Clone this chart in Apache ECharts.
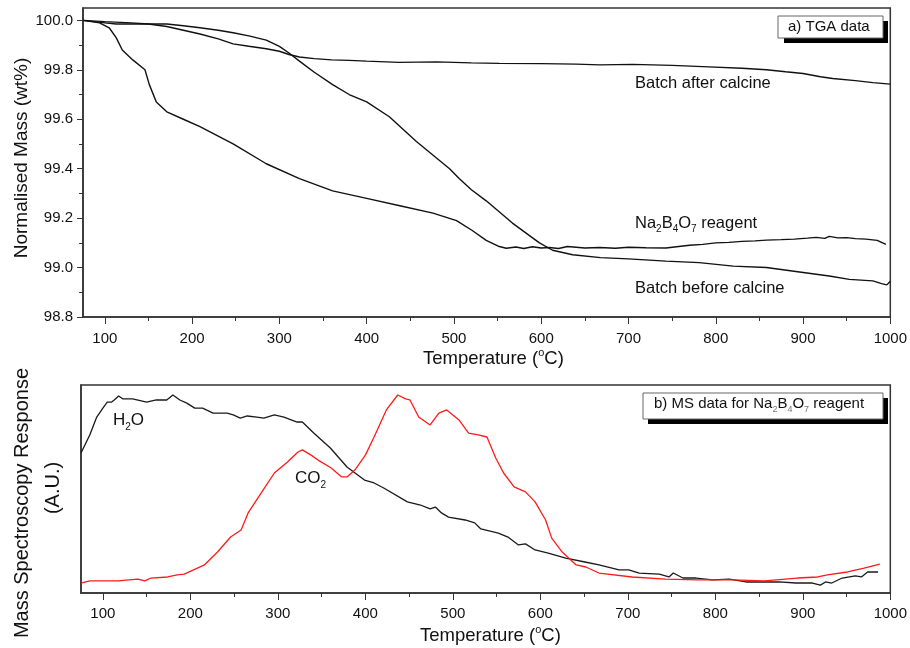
<!DOCTYPE html>
<html>
<head>
<meta charset="utf-8">
<script src="https://cdn.jsdelivr.net/npm/echarts@6/dist/echarts.min.js"></script>
<style>
  html, body { margin: 0; padding: 0; background: #ffffff; }
  #chart { width: 910px; height: 648px; }
</style>
</head>
<body>
<div id="chart"></div>
<script>
// ---------- a) TGA data: temperature (°C) and normalised mass (wt%) ----------
const afterTemp = [75, 100, 130, 150, 171, 190, 209, 230, 247, 265, 285, 300, 311, 323, 340, 360, 380, 400, 437, 480, 520, 552, 600, 640, 667, 705, 750, 792, 830, 858, 880, 900, 920, 934, 960, 980, 1000];
const afterMass = [100.0, 99.995, 99.99, 99.985, 99.975, 99.96, 99.945, 99.925, 99.905, 99.895, 99.885, 99.875, 99.862, 99.852, 99.845, 99.84, 99.838, 99.835, 99.83, 99.832, 99.828, 99.826, 99.825, 99.823, 99.82, 99.822, 99.818, 99.812, 99.806, 99.8, 99.792, 99.785, 99.772, 99.765, 99.756, 99.748, 99.742];

const beforeTemp = [75, 100, 113, 140, 171, 190, 209, 230, 247, 265, 285, 300, 311, 323, 340, 361, 380, 400, 426, 457, 495, 506, 520, 537, 567, 598, 613, 636, 668, 700, 743, 781, 820, 858, 896, 930, 953, 980, 990, 996, 1000];
const beforeMass = [100.0, 99.99, 99.985, 99.985, 99.985, 99.978, 99.97, 99.96, 99.95, 99.937, 99.92, 99.895, 99.868, 99.835, 99.79, 99.74, 99.70, 99.67, 99.61, 99.51, 99.40, 99.36, 99.315, 99.27, 99.18, 99.10, 99.07, 99.052, 99.04, 99.035, 99.026, 99.02, 99.006, 99.0, 98.982, 98.966, 98.952, 98.946, 98.935, 98.93, 98.945];

const boraxTemp = [75, 94, 105, 113, 120, 132, 146, 151, 159, 171, 190, 209, 247, 285, 323, 361, 400, 438, 476, 503, 521, 537, 552, 560, 571, 580, 590, 600, 609, 620, 630, 650, 667, 685, 700, 720, 743, 760, 770, 785, 800, 815, 830, 845, 858, 875, 890, 905, 915, 925, 930, 940, 950, 960, 972, 985, 995];
const boraxMass = [100.0, 99.99, 99.97, 99.93, 99.88, 99.84, 99.80, 99.74, 99.67, 99.63, 99.60, 99.57, 99.50, 99.42, 99.36, 99.31, 99.28, 99.25, 99.22, 99.19, 99.15, 99.11, 99.085, 99.078, 99.083, 99.077, 99.084, 99.079, 99.081, 99.077, 99.085, 99.079, 99.081, 99.078, 99.082, 99.08, 99.079, 99.086, 99.09, 99.094, 99.1, 99.102, 99.106, 99.108, 99.111, 99.113, 99.115, 99.119, 99.122, 99.118, 99.126, 99.12, 99.121, 99.117, 99.115, 99.11, 99.094];

// ---------- b) MS data: temperature (°C) and response (arbitrary units) ----------
const waterTemp = [75, 85, 93, 100, 105, 110, 113, 118, 123, 134, 150, 161, 173, 180, 188, 196, 205, 214, 226, 242, 249, 257, 265, 276, 284, 296, 307, 322, 328, 341, 360, 379, 399, 410, 421, 448, 463, 474, 480, 487, 495, 514, 525, 532, 552, 563, 575, 583, 594, 609, 629, 651, 667, 690, 701, 713, 736, 747, 752, 763, 778, 797, 816, 835, 854, 873, 892, 911, 920, 926, 933, 945, 960, 967, 974, 986];
const waterSignal = [67.3, 76.0, 84.6, 88.9, 91.8, 91.8, 92.8, 94.7, 93.3, 93.3, 91.8, 92.8, 92.8, 95.2, 92.8, 91.3, 88.9, 88.9, 86.5, 86.5, 85.6, 84.1, 85.1, 84.6, 84.1, 85.6, 84.6, 82.2, 82.2, 76.9, 69.7, 60.6, 54.3, 52.9, 50.5, 43.8, 42.3, 40.4, 41.3, 38.5, 36.5, 35.1, 33.7, 30.8, 28.8, 26.9, 23.1, 23.6, 20.7, 19.2, 16.8, 14.9, 13.5, 11.1, 11.1, 9.6, 9.1, 7.7, 9.6, 7.2, 7.2, 6.3, 6.7, 5.3, 5.3, 5.3, 4.8, 4.8, 3.8, 5.3, 4.8, 7.2, 8.2, 7.7, 10.1, 10.1];

const co2Temp = [75, 85, 117, 140, 148, 155, 174, 185, 193, 208, 216, 231, 246, 258, 266, 281, 296, 311, 323, 328, 338, 346, 361, 373, 379, 388, 400, 410, 424, 437, 446, 451, 461, 474, 484, 493, 507, 518, 529, 539, 549, 558, 570, 583, 594, 606, 613, 625, 641, 652, 667, 705, 743, 781, 820, 856, 880, 894, 917, 928, 951, 970, 988];
const co2Signal = [4.8, 5.8, 5.8, 6.7, 5.8, 7.2, 7.7, 8.7, 9.1, 12.0, 13.5, 19.7, 26.9, 30.3, 38.5, 48.1, 57.7, 63.0, 67.8, 68.8, 66.3, 63.9, 60.1, 55.8, 55.8, 59.1, 66.3, 75.0, 88.0, 95.2, 93.3, 92.8, 84.6, 80.8, 86.5, 88.0, 83.2, 76.9, 76.0, 75.0, 64.9, 57.7, 51.0, 48.6, 43.8, 35.1, 26.4, 19.7, 13.5, 12.5, 9.6, 7.7, 6.7, 6.3, 6.3, 5.8, 6.7, 7.2, 7.7, 8.7, 10.1, 12.0, 13.9];

// ---------- axis tick values ----------
const tempTicks = [100, 200, 300, 400, 500, 600, 700, 800, 900, 1000];
const tempMinorTicks = [150, 250, 350, 450, 550, 650, 750, 850, 950];
const massTicks = [98.8, 99.0, 99.2, 99.4, 99.6, 99.8, 100.0];
const massMinorTicks = [98.9, 99.1, 99.3, 99.5, 99.7, 99.9];

const FONT = 'Arial, "Liberation Sans", Helvetica, sans-serif';
const INK = '#111111';
const AXIS = '#333333';

function pairs(xs, ys) { return xs.map((x, i) => [x, ys[i]]); }

function mainX(gridIndex, labelMargin) {
  return {
    type: 'value', gridIndex: gridIndex, min: 75, max: 1000, position: 'bottom',
    axisLine: { show: true, onZero: false, lineStyle: { color: AXIS, width: 1.5 } },
    axisTick: { show: true, inside: false, length: 7, customValues: tempTicks, lineStyle: { color: AXIS, width: 1 } },
    axisLabel: { show: true, customValues: tempTicks, margin: labelMargin, fontFamily: FONT, fontSize: 15, color: INK,
      formatter: v => String(v) },
    splitLine: { show: false }
  };
}
function minorX(gridIndex) {
  return {
    type: 'value', gridIndex: gridIndex, min: 75, max: 1000, position: 'bottom',
    axisLine: { show: false },
    axisTick: { show: true, inside: false, length: 4, customValues: tempMinorTicks, lineStyle: { color: AXIS, width: 1 } },
    axisLabel: { show: false },
    splitLine: { show: false }
  };
}

// rich-text styles: normal tokens fill a fixed line box, subscripts sit at its bottom, superscripts at its top
function chemRich(size, subSize, subColor) {
  return {
    n: { fontFamily: FONT, fontSize: size, fill: INK, lineHeight: Math.round(size * 1.35) },
    s: { fontFamily: FONT, fontSize: subSize, fill: subColor || INK, verticalAlign: 'bottom' }
  };
}
function titleRich(size) {
  return {
    n: { fontFamily: FONT, fontSize: size, fill: INK, lineHeight: Math.round(size * 1.3) },
    sup: { fontFamily: FONT, fontSize: 11, fill: INK, verticalAlign: 'top' }
  };
}

const chart = echarts.init(document.getElementById('chart'), null, { renderer: 'canvas' });

chart.setOption({
  backgroundColor: '#ffffff',
  animation: false,
  grid: [
    { left: 83, top: 8, width: 808, height: 309, show: true, borderColor: AXIS, borderWidth: 1.5, backgroundColor: 'transparent' },
    { left: 81, top: 385, width: 810, height: 208, show: true, borderColor: AXIS, borderWidth: 1.5, backgroundColor: 'transparent' }
  ],
  xAxis: [mainX(0, 14), minorX(0), mainX(1, 13), minorX(1)],
  yAxis: [
    {
      type: 'value', gridIndex: 0, min: 98.8, max: 100.05, position: 'left',
      axisLine: { show: true, lineStyle: { color: AXIS, width: 1.5 } },
      axisTick: { show: true, inside: false, length: 6, customValues: massTicks, lineStyle: { color: AXIS, width: 1 } },
      axisLabel: { show: true, customValues: massTicks, margin: 10, fontFamily: FONT, fontSize: 15, color: INK,
        formatter: v => v.toFixed(1) },
      splitLine: { show: false }
    },
    {
      type: 'value', gridIndex: 0, min: 98.8, max: 100.05, position: 'left',
      axisLine: { show: false },
      axisTick: { show: true, inside: false, length: 4, customValues: massMinorTicks, lineStyle: { color: AXIS, width: 1 } },
      axisLabel: { show: false },
      splitLine: { show: false }
    },
    {
      type: 'value', gridIndex: 1, min: 0, max: 100, position: 'left',
      axisLine: { show: true, lineStyle: { color: AXIS, width: 1.5 } },
      axisTick: { show: false },
      axisLabel: { show: false },
      splitLine: { show: false }
    }
  ],
  series: [
    { name: 'Batch after calcine', type: 'line', xAxisIndex: 0, yAxisIndex: 0, showSymbol: false, symbol: 'none',
      lineStyle: { color: INK, width: 1.4 }, data: pairs(afterTemp, afterMass) },
    { name: 'Batch before calcine', type: 'line', xAxisIndex: 0, yAxisIndex: 0, showSymbol: false, symbol: 'none',
      lineStyle: { color: INK, width: 1.4 }, data: pairs(beforeTemp, beforeMass) },
    { name: 'Na2B4O7 reagent', type: 'line', xAxisIndex: 0, yAxisIndex: 0, showSymbol: false, symbol: 'none',
      lineStyle: { color: INK, width: 1.4 }, data: pairs(boraxTemp, boraxMass) },
    { name: 'H2O', type: 'line', xAxisIndex: 2, yAxisIndex: 2, showSymbol: false, symbol: 'none',
      lineStyle: { color: '#1a1a1a', width: 1.3 }, data: pairs(waterTemp, waterSignal) },
    { name: 'CO2', type: 'line', xAxisIndex: 2, yAxisIndex: 2, showSymbol: false, symbol: 'none',
      lineStyle: { color: '#ff1a1a', width: 1.3 }, data: pairs(co2Temp, co2Signal) }
  ],
  graphic: [
    // axis titles
    { type: 'text', left: 423, top: 347, style: { text: '{n|Temperature (}{sup|o}{n|C)}', rich: titleRich(18.5) } },
    { type: 'text', left: 420, top: 624, style: { text: '{n|Temperature (}{sup|o}{n|C)}', rich: titleRich(18.5) } },
    { type: 'text', x: 22, y: 158, rotation: Math.PI / 2,
      style: { text: 'Normalised Mass (wt%)', fontFamily: FONT, fontSize: 19, fill: INK, align: 'center', verticalAlign: 'middle' } },
    { type: 'text', x: 22, y: 503, rotation: Math.PI / 2,
      style: { text: 'Mass Spectroscopy Response', fontFamily: FONT, fontSize: 20, fill: INK, align: 'center', verticalAlign: 'middle' } },
    { type: 'text', x: 53, y: 488, rotation: Math.PI / 2,
      style: { text: '(A.U.)', fontFamily: FONT, fontSize: 20, fill: INK, align: 'center', verticalAlign: 'middle' } },

    // panel tags with drop shadow
    { type: 'rect', shape: { x: 784, y: 21, width: 104, height: 22 }, style: { fill: '#000000' }, z: 10 },
    { type: 'rect', shape: { x: 778, y: 16, width: 105, height: 22 }, style: { fill: '#ffffff', stroke: '#666666', lineWidth: 1 }, z: 11 },
    { type: 'text', x: 788, y: 27, z: 12, style: { text: 'a) TGA data', fontFamily: FONT, fontSize: 15, fill: INK, verticalAlign: 'middle' } },

    { type: 'rect', shape: { x: 648, y: 398, width: 240, height: 26 }, style: { fill: '#000000' }, z: 10 },
    { type: 'rect', shape: { x: 643, y: 393, width: 240, height: 26 }, style: { fill: '#ffffff', stroke: '#666666', lineWidth: 1 }, z: 11 },
    { type: 'text', x: 654, y: 394, z: 12, style: {
        text: '{n|b) MS data for Na}{s|2}{n|B}{s|4}{n|O}{s|7}{n| reagent}', rich: chemRich(15, 9, '#777777') } },

    // curve labels
    { type: 'text', x: 635, y: 75, style: { text: 'Batch after calcine', fontFamily: FONT, fontSize: 16.5, fill: INK } },
    { type: 'text', x: 635, y: 280, style: { text: 'Batch before calcine', fontFamily: FONT, fontSize: 16.5, fill: INK } },
    { type: 'text', x: 635, y: 212, style: { text: '{n|Na}{s|2}{n|B}{s|4}{n|O}{s|7}{n| reagent}', rich: chemRich(16.5, 10) } },
    { type: 'text', x: 113, y: 409, style: { text: '{n|H}{s|2}{n|O}', rich: chemRich(17, 10) } },
    { type: 'text', x: 295, y: 467, style: { text: '{n|CO}{s|2}', rich: chemRich(17, 10) } }
  ]
});
</script>
</body>
</html>
